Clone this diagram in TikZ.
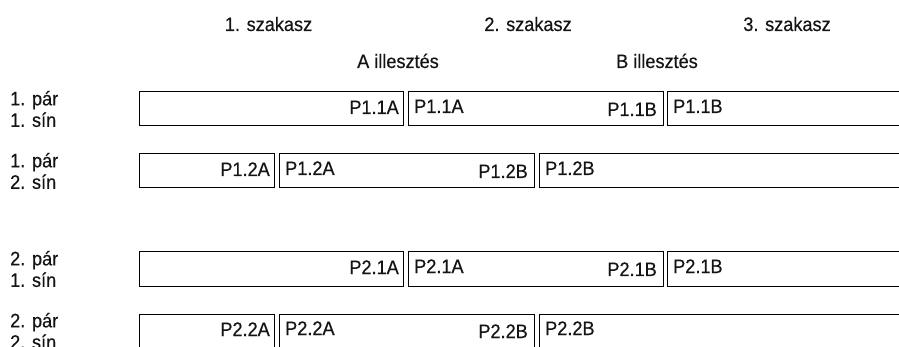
\documentclass[tikz,border=0pt]{standalone}
\usepackage{fontspec}
\setmainfont[FakeStretch=0.93,FakeBold=0.4]{Liberation Sans}
\begin{document}
\begin{tikzpicture}[x=1pt,y=1pt,
  txt/.style={font=\fontsize{19.5}{21.5}\selectfont, inner sep=0pt, text=black!92},
  rowlabel/.style={txt, align=left, anchor=west},
  railbox/.style={draw=black, line width=1pt, fill=white}]
  \clip (0,0) rectangle (899,-347);
  \fill[white] (0,0) rectangle (899,-347);

  % section and joint headings
  \node[txt, anchor=base] (sz1) at (268.5,-31) {1. szakasz};
  \node[txt, anchor=base] (sz2) at (528,-31) {2. szakasz};
  \node[txt, anchor=base] (sz3) at (787,-31) {3. szakasz};
  \node[txt, anchor=base] (ilA) at (398,-68) {A illesztés};
  \node[txt, anchor=base] (ilB) at (657,-68) {B illesztés};

  % one row per rail: top edge, pair, rail, joint positions, labels
  \foreach \top/\pair/\rail/\ea/\sa/\eb/\sb/\la/\lb/\id in {
      92/1/1/403/408/663/667/P1.1A/P1.1B/a,
      154/1/2/274/279/534/539/P1.2A/P1.2B/b,
      252/2/1/403/408/663/667/P2.1A/P2.1B/c,
      314/2/2/274/279/534/539/P2.2A/P2.2B/d}{
    \pgfmathsetmacro{\bot}{\top+34}
    \pgfmathsetmacro{\mid}{\top+17}
    \node[rowlabel] (lab\id) at (10,-\mid) {\pair. pár\\\rail. sín};
    \draw[railbox] (139,-\top) rectangle (\ea,-\bot);
    \draw[railbox] (\sa,-\top) rectangle (\eb,-\bot);
    \draw[railbox] (\sb,-\top) rectangle (930,-\bot);
    \node[txt, anchor=base east] (\id1) at (\ea-4,-\top-22) {\la};
    \node[txt, anchor=base west] (\id2) at (\sa+6,-\top-21) {\la};
    \node[txt, anchor=base east] (\id3) at (\eb-6,-\top-24) {\lb};
    \node[txt, anchor=base west] (\id4) at (\sb+6,-\top-21) {\lb};
  }
\end{tikzpicture}
\end{document}
